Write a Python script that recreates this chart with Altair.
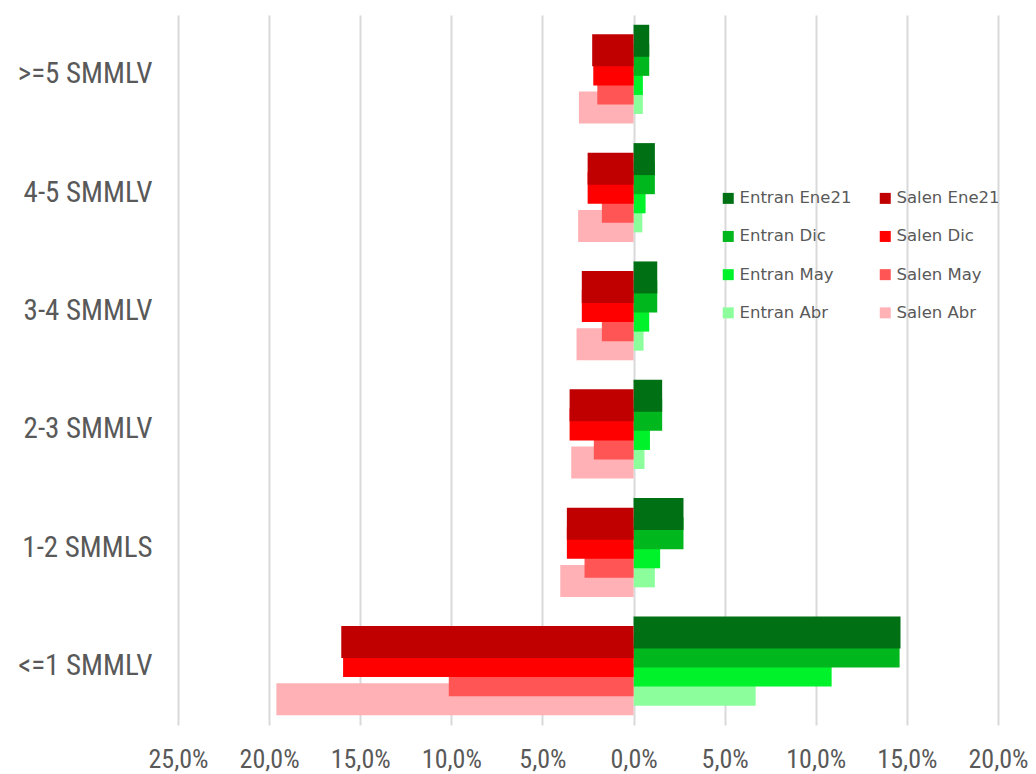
import altair as alt
import pandas as pd

categories = [">=5 SMMLV", "4-5 SMMLV", "3-4 SMMLV", "2-3 SMMLV\u00a0", "1-2 SMMLS", "<=1 SMMLV"]

entran_ene21 = [0.86, 1.17, 1.30, 1.57, 2.74, 14.65]
entran_dic = [0.86, 1.17, 1.30, 1.57, 2.74, 14.60]
entran_may = [0.51, 0.66, 0.86, 0.90, 1.46, 10.87]
entran_abr = [0.51, 0.48, 0.55, 0.60, 1.17, 6.70]
salen_ene21 = [2.27, 2.52, 2.84, 3.51, 3.66, 16.04]
salen_dic = [2.21, 2.52, 2.84, 3.51, 3.66, 15.94]
salen_may = [1.99, 1.74, 1.74, 2.18, 2.69, 10.14]
salen_abr = [3.00, 3.04, 3.13, 3.42, 4.02, 19.60]

# position order inside each category (top to bottom)
series_order = ["Entran Ene21", "Salen Ene21", "Entran Dic", "Salen Dic",
                "Entran May", "Salen May", "Entran Abr", "Salen Abr"]
# legend order (filled column by column)
legend_order = ["Entran Ene21", "Entran Dic", "Entran May", "Entran Abr",
                "Salen Ene21", "Salen Dic", "Salen May", "Salen Abr"]
legend_colors = ["#007014", "#00B81D", "#00F22B", "#8CFF9C",
                 "#C00000", "#FF0000", "#FF5555", "#FFB1B5"]

# drawing order: Abr first so that Ene21 ends on top
draw = [
    ("Entran Abr", entran_abr, 1), ("Salen Abr", salen_abr, -1),
    ("Entran May", entran_may, 1), ("Salen May", salen_may, -1),
    ("Entran Dic", entran_dic, 1), ("Salen Dic", salen_dic, -1),
    ("Entran Ene21", entran_ene21, 1), ("Salen Ene21", salen_ene21, -1),
]
rows = []
for name, vals, sign in draw:
    for c, v in zip(categories, vals):
        rows.append({"cat": c, "serie": name, "val": sign * v})
df = pd.DataFrame(rows)

label_font = "'Liberation Sans Narrow', 'Roboto Condensed', 'Liberation Sans', sans-serif"

chart = alt.Chart(df).mark_bar(height=32).encode(
    y=alt.Y("cat:N", sort=categories,
            scale=alt.Scale(paddingInner=0.355, paddingOuter=0.1775),
            axis=alt.Axis(title=None, ticks=False, domain=False, labelFontSize=29,
                          labelFont=label_font, labelColor="#595959", labelPadding=26)),
    yOffset=alt.YOffset("serie:N", sort=series_order,
                        scale=alt.Scale(domain=series_order, paddingInner=0, paddingOuter=0)),
    x=alt.X("val:Q",
            scale=alt.Scale(domain=[-25, 20], nice=False, zero=False),
            axis=alt.Axis(title=None, values=[-25, -20, -15, -10, -5, 0, 5, 10, 15, 20],
                          labelExpr="replace(format(abs(datum.value) / 100, '.1%'), '.', ',')",
                          labelFlush=False, labelOverlap=False,
                          ticks=False, domain=False, grid=True, gridColor="#D9D9D9",
                          gridWidth=2, labelFontSize=26, labelFont=label_font,
                          labelColor="#595959", labelPadding=21)),
    color=alt.Color("serie:N",
                    scale=alt.Scale(domain=legend_order, range=legend_colors),
                    legend=alt.Legend(title=None, orient="none", legendX=542, legendY=175,
                                      columns=2, columnPadding=25, rowPadding=21.2,
                                      symbolType="square", symbolSize=121,
                                      symbolStrokeWidth=0, labelFontSize=16.5,
                                      labelFont="DejaVu Sans", labelColor="#595959",
                                      labelOffset=3)),
    order=alt.value(0),
).properties(
    width=820, height=710,
    autosize=alt.AutoSizeParams(type="none"),
    padding={"left": 170, "top": 7, "right": 30, "bottom": 48},
).configure_view(stroke=None)

chart.save("out.html", embed_options={"renderer": "svg", "actions": False})
